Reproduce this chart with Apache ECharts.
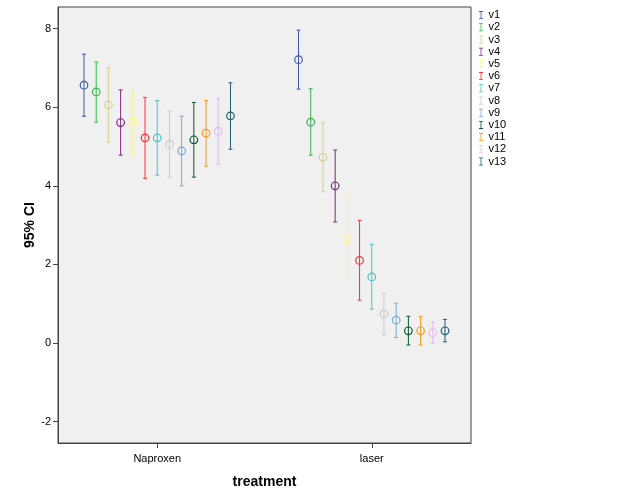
<!DOCTYPE html>
<html>
<head>
<meta charset="utf-8">
<script src="https://cdn.jsdelivr.net/npm/echarts@6/dist/echarts.min.js"></script>
<style>html,body{margin:0;padding:0;background:#fff;}#c{width:629px;height:504px;}</style>
</head>
<body>
<div id="c"></div>
<script>
// Data
var categories = ['Naproxen', 'laser'];
var seriesNames = ['v1','v2','v3','v4','v5','v6','v7','v8','v9','v10','v11','v12','v13'];
// mean per series for [Naproxen, laser]
var means = [
  [6.56, 7.21], [6.39, 5.62], [6.06, 4.73], [5.61, 4.00], [5.62, 2.64],
  [5.22, 2.10], [5.22, 1.68], [5.06, 0.74], [4.89, 0.58], [5.17, 0.31],
  [5.34, 0.31], [5.39, 0.26], [5.78, 0.31]
];
var lowers = [
  [5.77, 6.46], [5.62, 4.78], [5.11, 3.85], [4.78, 3.08], [4.78, 1.56],
  [4.19, 1.09], [4.27, 0.86], [4.22, 0.20], [4.00, 0.14], [4.22, -0.05],
  [4.50, -0.05], [4.55, 0.00], [4.93, 0.03]
];
var uppers = [
  [7.35, 7.96], [7.15, 6.47], [7.00, 5.60], [6.44, 4.91], [6.45, 3.71],
  [6.25, 3.12], [6.17, 2.51], [5.90, 1.26], [5.77, 1.01], [6.12, 0.68],
  [6.17, 0.68], [6.22, 0.53], [6.62, 0.60]
];
var yTicks = [-2, 0, 2, 4, 6, 8];
var colors = ['#3E58AC','#2EB848','#D3CE97','#7C287D','#FBF873','#EF3338','#48C2C5','#CCCCCC','#7AAAD5','#0A562C','#F8981D','#DDBAF1','#1A5F76'];

var FONT = 'Liberation Sans, Arial, sans-serif';
var STEP = 0.0569; // cluster spacing as fraction of category distance

function makeRender(idx, color) {
  return function (params, api) {
    var x = api.value(0), m = api.value(1), lo = api.value(2), hi = api.value(3);
    var unit = api.size([1, 0])[0];
    var off = (idx - 6) * STEP * unit;
    var pm = api.coord([x, m]), plo = api.coord([x, lo]), phi = api.coord([x, hi]);
    var cx = pm[0] + off;
    var st = { stroke: color, lineWidth: 1, fill: null };
    return {
      type: 'group',
      children: [
        { type: 'line', shape: { x1: cx, y1: plo[1], x2: cx, y2: phi[1] }, style: st },
        { type: 'line', shape: { x1: cx - 2, y1: phi[1], x2: cx + 2, y2: phi[1] }, style: st },
        { type: 'line', shape: { x1: cx - 2, y1: plo[1], x2: cx + 2, y2: plo[1] }, style: st },
        { type: 'circle', shape: { cx: cx, cy: pm[1], r: 3.8 }, style: { stroke: color, lineWidth: 1.2, fill: 'rgba(0,0,0,0)' } }
      ]
    };
  };
}

var series = seriesNames.map(function (name, i) {
  return {
    name: name,
    type: 'custom',
    renderItem: makeRender(i, colors[i]),
    itemStyle: { color: colors[i] },
    encode: { x: 0, y: [1, 2, 3] },
    data: categories.map(function (c, k) { return [k, means[i][k], lowers[i][k], uppers[i][k]]; })
  };
});

var chart = echarts.init(document.getElementById('c'), null, { renderer: 'canvas' });
chart.setOption({
  animation: false,
  backgroundColor: '#ffffff',
  color: colors,
  grid: { left: 58, top: 7, right: 158, bottom: 61, show: true, backgroundColor: '#F0F0F0', borderColor: '#444444', borderWidth: 1 },
  legend: {
    orient: 'vertical', left: 474, top: 4, itemGap: 0, itemWidth: 5, itemHeight: 8,
    icon: 'path://M0,0h5v1h-2v8h2v1h-5v-1h2v-8h-2z',
    textStyle: { fontFamily: FONT, fontSize: 11, color: '#000', lineHeight: 12.2 },
    data: seriesNames
  },
  xAxis: {
    type: 'value', min: -0.4626, max: 1.4626,
    name: 'treatment', nameLocation: 'middle', nameGap: 32, nameMoveOverlap: false,
    nameTextStyle: { fontFamily: FONT, fontSize: 14, fontWeight: 'bold', color: '#000' },
    axisLine: { show: true, onZero: false, lineStyle: { color: '#444444' } },
    axisTick: { show: true, length: 5, lineStyle: { color: '#444444' }, customValues: [0, 1] },
    axisLabel: { fontFamily: FONT, fontSize: 11, color: '#000', margin: 10, customValues: [0, 1],
      formatter: function (v) { return categories[Math.round(v)] || ''; } },
    splitLine: { show: false }
  },
  yAxis: {
    type: 'value', min: -2.545, max: 8.55,
    name: '95% CI', nameLocation: 'middle', nameGap: 21, nameRotate: 90, nameMoveOverlap: false,
    nameTextStyle: { fontFamily: FONT, fontSize: 14, fontWeight: 'bold', color: '#000' },
    axisLine: { show: true, onZero: false, lineStyle: { color: '#444444' } },
    axisTick: { show: true, length: 5, lineStyle: { color: '#444444' }, customValues: yTicks },
    axisLabel: { fontFamily: FONT, fontSize: 11, color: '#000', margin: 7, customValues: yTicks },
    splitLine: { show: false }
  },
  series: series
});
</script>
</body>
</html>
